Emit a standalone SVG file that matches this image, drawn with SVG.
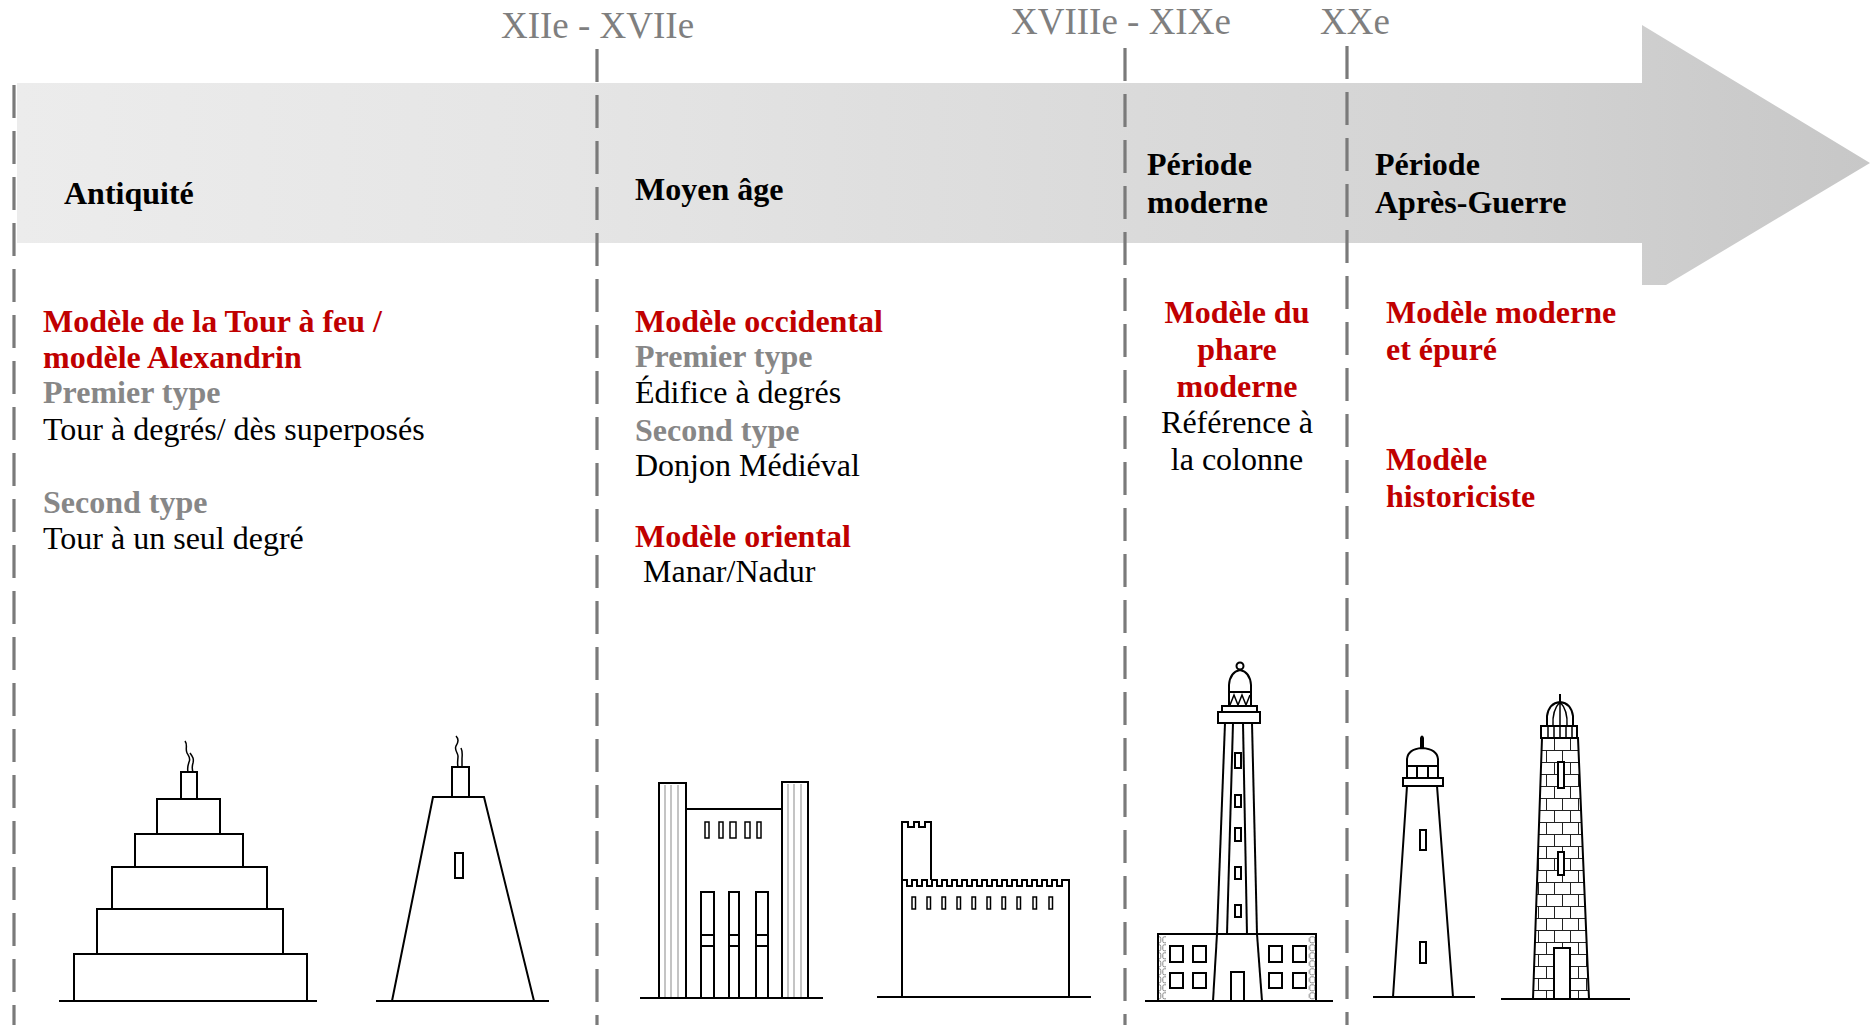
<svg xmlns="http://www.w3.org/2000/svg" width="1870" height="1025" viewBox="0 0 1870 1025">
  <defs>
    <linearGradient id="bandFill" gradientUnits="userSpaceOnUse" x1="17" y1="0" x2="1870" y2="0">
      <stop offset="0" stop-color="#ececec"/>
      <stop offset="0.3" stop-color="#e5e5e5"/>
      <stop offset="0.55" stop-color="#dcdcdc"/>
      <stop offset="0.8" stop-color="#d3d3d3"/>
      <stop offset="1" stop-color="#c7c7c7"/>
    </linearGradient>
    <pattern id="bricks" patternUnits="userSpaceOnUse" x="1530" y="750" width="16" height="24">
      <path d="M0,0.5 H16 M0,12.5 H16 M0.5,0 V12 M8.5,12 V24" fill="none" stroke="#222" stroke-width="1"/>
    </pattern>
    <pattern id="stones" patternUnits="userSpaceOnUse" x="0" y="936" width="7" height="8">
      <rect x="0.8" y="0.8" width="5" height="6" rx="1.5" fill="none" stroke="#888" stroke-width="1"/>
    </pattern>
    <clipPath id="brickTower">
      <polygon points="1533,999 1542,738 1578,738 1589,999"/>
    </clipPath>
    <style>
      .ln { fill: none; stroke: #000; stroke-width: 2; }
      .wf { fill: #fff; stroke: #000; stroke-width: 2; }
      .tn { fill: none; stroke: #000; stroke-width: 1.5; }
      .gl { fill: none; stroke: #b0b0b0; stroke-width: 1.5; }
      .div { stroke: #7a7a7a; stroke-width: 3.2; stroke-dasharray: 33 13; fill: none; }
      .yr { font-family: "Liberation Serif", "Times New Roman", serif; font-size: 37px; fill: #7f7f7f; }
      .hd { font-family: "Liberation Serif", "Times New Roman", serif; font-size: 32px; font-weight: bold; fill: #000; }
      .tx { font-family: "Liberation Serif", "Times New Roman", serif; font-size: 32px; fill: #000; }
      .red { font-weight: bold; fill: #c00000; }
      .gry { font-weight: bold; fill: #878787; }
      .mid { text-anchor: middle; }
    </style>
  </defs>

  <rect width="1870" height="1025" fill="#fff"/>

  <!-- timeline arrow -->
  <g id="timeline">
    <polygon points="17,83 1642,83 1642,25 1870,163 1666,285 1642,285 1642,243 17,243" fill="url(#bandFill)"/>
  </g>

  <!-- period dividers -->
  <g id="connectors">
    <line class="div" x1="14" y1="85" x2="14" y2="1025"/>
    <line class="div" x1="597" y1="49" x2="597" y2="1025"/>
    <line class="div" x1="1125" y1="48" x2="1125" y2="1025"/>
    <line class="div" x1="1347" y1="46" x2="1347" y2="1025"/>
  </g>

  <!-- century marks -->
  <g id="centuries">
    <text class="yr" x="501" y="38">XIIe - XVIIe</text>
    <text class="yr" x="1011" y="34">XVIIIe - XIXe</text>
    <text class="yr" x="1320" y="34">XXe</text>
  </g>

  <!-- Antiquité -->
  <g id="era-antiquite">
    <text class="hd" x="64" y="204">Antiquité</text>
    <text class="tx red" x="43" y="332">Modèle de la Tour à feu /</text>
    <text class="tx red" x="43" y="368">modèle Alexandrin</text>
    <text class="tx gry" x="43" y="403">Premier type</text>
    <text class="tx" x="43" y="440">Tour à degrés/ dès superposés</text>
    <text class="tx gry" x="43" y="513">Second type</text>
    <text class="tx" x="43" y="549">Tour à un seul degré</text>

    <!-- stepped tower -->
    <g id="stepped-tower">
      <line class="ln" x1="59" y1="1001" x2="317" y2="1001"/>
      <rect class="ln" x="74" y="954" width="233" height="47"/>
      <rect class="ln" x="97" y="909" width="186" height="45"/>
      <rect class="ln" x="112" y="867" width="155" height="42"/>
      <rect class="ln" x="135" y="834" width="108" height="33"/>
      <rect class="ln" x="157" y="799" width="63" height="35"/>
      <rect class="ln" x="181" y="772" width="16" height="27"/>
      <path class="tn" d="M185,741 c3,4 0,8 2,12 c2,4 4,5 2,9 c-1,3 -2,6 -1,10"/>
      <path class="tn" d="M190,753 c3,4 4,6 3,10 c-1,3 -1,6 0,9"/>
    </g>

    <!-- single-stage tower -->
    <g id="tapered-tower">
      <line class="ln" x1="376" y1="1001" x2="549" y2="1001"/>
      <polygon class="ln" points="392,1001 433,797 484,797 534,1001"/>
      <rect class="ln" x="452" y="767" width="17" height="30"/>
      <rect class="ln" x="455" y="853" width="8" height="25"/>
      <path class="tn" d="M456,736 c3,3 2,7 0,10 c-2,4 2,7 2,10 c0,4 -1,7 0,11"/>
      <path class="tn" d="M461,748 c2,4 1,8 1,11 c0,3 0,5 0,8"/>
    </g>
  </g>

  <!-- Moyen âge -->
  <g id="era-moyen-age">
    <text class="hd" x="635" y="200">Moyen âge</text>
    <text class="tx red" x="635" y="332">Modèle occidental</text>
    <text class="tx gry" x="635" y="367">Premier type</text>
    <text class="tx" x="635" y="403">Édifice à degrés</text>
    <text class="tx gry" x="635" y="441">Second type</text>
    <text class="tx" x="635" y="476">Donjon Médiéval</text>
    <text class="tx red" x="635" y="547">Modèle oriental</text>
    <text class="tx" x="643" y="582">Manar/Nadur</text>

    <!-- gate building -->
    <g id="gate-building">
      <line class="gl" x1="665" y1="785" x2="665" y2="997"/>
      <line class="gl" x1="671" y1="785" x2="671" y2="997"/>
      <line class="gl" x1="678" y1="785" x2="678" y2="997"/>
      <line class="gl" x1="788" y1="784" x2="788" y2="997"/>
      <line class="gl" x1="794" y1="784" x2="794" y2="997"/>
      <line class="gl" x1="801" y1="784" x2="801" y2="997"/>
      <rect class="ln" x="659" y="783" width="27" height="215"/>
      <rect class="ln" x="782" y="782" width="26" height="216"/>
      <line class="ln" x1="686" y1="809" x2="782" y2="809"/>
      <line class="ln" x1="640" y1="998" x2="823" y2="998"/>
      <rect class="tn" x="705" y="822" width="4" height="16"/>
      <rect class="tn" x="719" y="822" width="4" height="16"/>
      <rect class="tn" x="730" y="822" width="6" height="16"/>
      <rect class="tn" x="745" y="822" width="5" height="16"/>
      <rect class="tn" x="757" y="822" width="4" height="16"/>
      <rect class="ln" x="701" y="892" width="13" height="106"/>
      <rect class="ln" x="729" y="892" width="10" height="106"/>
      <rect class="ln" x="756" y="892" width="12" height="106"/>
      <path class="ln" d="M701,935 h13 M701,946 h13 M729,935 h10 M729,946 h10 M756,935 h12 M756,946 h12"/>
    </g>

    <!-- keep with battlements -->
    <g id="keep">
      <line class="ln" x1="877" y1="997" x2="1091" y2="997"/>
      <path class="ln" d="M902,997 V880
        h5 v6 h5 v-6 h5 v6 h5 v-6 h5 v6 h5 v-6 h5 v6 h5 v-6
        h5 v6 h5 v-6 h5 v6 h5 v-6 h5 v6 h5 v-6 h5 v6 h5 v-6
        h5 v6 h5 v-6 h5 v6 h5 v-6 h5 v6 h5 v-6 h5 v6 h5 v-6
        h5 v6 h5 v-6 h5 v6 h5 v-6 h5 v6 h5 v-6 h5 v6 h5 v-6
        h7 V997"/>
      <path class="ln" d="M902,880 V822 h6 v5 h6 v-5 h5 v5 h6 v-5 h6 V880"/>
      <g class="tn">
        <rect x="912" y="897" width="3.5" height="12"/>
        <rect x="927" y="897" width="3.5" height="12"/>
        <rect x="942" y="897" width="3.5" height="12"/>
        <rect x="957" y="897" width="3.5" height="12"/>
        <rect x="972" y="897" width="3.5" height="12"/>
        <rect x="987" y="897" width="3.5" height="12"/>
        <rect x="1002" y="897" width="3.5" height="12"/>
        <rect x="1017" y="897" width="3.5" height="12"/>
        <rect x="1033" y="897" width="3.5" height="12"/>
        <rect x="1049" y="897" width="3.5" height="12"/>
      </g>
    </g>
  </g>

  <!-- Période moderne -->
  <g id="era-moderne">
    <text class="hd" x="1147" y="175">Période</text>
    <text class="hd" x="1147" y="213">moderne</text>
    <text class="tx red mid" x="1237" y="323">Modèle du</text>
    <text class="tx red mid" x="1237" y="360">phare</text>
    <text class="tx red mid" x="1237" y="397">moderne</text>
    <text class="tx mid" x="1237" y="433">Référence à</text>
    <text class="tx mid" x="1237" y="470">la colonne</text>

    <!-- column lighthouse with keeper's house -->
    <g id="column-lighthouse">
      <line class="ln" x1="1145" y1="1001" x2="1333" y2="1001"/>
      <rect x="1159" y="936" width="7" height="64" fill="url(#stones)"/>
      <rect x="1308" y="936" width="7" height="64" fill="url(#stones)"/>
      <rect class="ln" x="1158" y="934" width="158" height="67"/>
      <g class="ln">
        <rect x="1170" y="946" width="13" height="16"/>
        <rect x="1193" y="946" width="13" height="16"/>
        <rect x="1170" y="973" width="13" height="15"/>
        <rect x="1193" y="973" width="13" height="15"/>
        <rect x="1269" y="946" width="13" height="16"/>
        <rect x="1293" y="946" width="13" height="16"/>
        <rect x="1269" y="973" width="13" height="15"/>
        <rect x="1293" y="973" width="13" height="15"/>
      </g>
      <line class="ln" x1="1217" y1="934" x2="1213" y2="1001"/>
      <line class="ln" x1="1257" y1="934" x2="1262" y2="1001"/>
      <rect class="ln" x="1231" y="972" width="13" height="29"/>
      <line class="ln" x1="1217" y1="934" x2="1225" y2="723"/>
      <line class="ln" x1="1227" y1="934" x2="1233" y2="723"/>
      <line class="ln" x1="1247" y1="934" x2="1243" y2="723"/>
      <line class="ln" x1="1257" y1="934" x2="1252" y2="723"/>
      <g class="ln">
        <rect x="1235" y="753" width="6" height="15"/>
        <rect x="1235" y="795" width="6" height="12"/>
        <rect x="1235" y="828" width="6" height="13"/>
        <rect x="1235" y="867" width="6" height="12"/>
        <rect x="1235" y="905" width="6" height="12"/>
      </g>
      <rect class="ln" x="1218" y="712" width="42" height="11"/>
      <rect class="ln" x="1222" y="706" width="35" height="6"/>
      <rect class="ln" x="1229" y="692" width="22" height="14"/>
      <polyline class="tn" points="1230,705 1234,695 1238,705 1242,695 1246,705 1250,695"/>
      <path class="ln" d="M1229,692 V685 Q1230,672 1240,670 Q1250,672 1251,685 V692"/>
      <circle class="ln" cx="1240" cy="666" r="3.5"/>
    </g>
  </g>

  <!-- Période Après-Guerre -->
  <g id="era-apres-guerre">
    <text class="hd" x="1375" y="175">Période</text>
    <text class="hd" x="1375" y="213">Après-Guerre</text>
    <text class="tx red" x="1386" y="323">Modèle moderne</text>
    <text class="tx red" x="1386" y="360">et épuré</text>
    <text class="tx red" x="1386" y="470">Modèle</text>
    <text class="tx red" x="1386" y="507">historiciste</text>

    <!-- plain lighthouse -->
    <g id="plain-lighthouse">
      <line class="ln" x1="1373" y1="997" x2="1475" y2="997"/>
      <polygon class="ln" points="1393,997 1407,786 1437,786 1453,997"/>
      <rect class="ln" x="1403" y="778" width="40" height="8"/>
      <rect class="ln" x="1407" y="766" width="31" height="12"/>
      <path class="ln" d="M1417,766 v12 M1428,766 v12"/>
      <path class="ln" d="M1407,766 V759 Q1408,749 1422,748 Q1437,749 1438,759 V766"/>
      <path class="ln" d="M1421,748 V738 Q1422,735 1423,738 V748"/>
      <rect class="ln" x="1420" y="830" width="6" height="20"/>
      <rect class="ln" x="1420" y="942" width="6" height="21"/>
    </g>

    <!-- masonry lighthouse -->
    <g id="masonry-lighthouse">
      <line class="ln" x1="1501" y1="999" x2="1630" y2="999"/>
      <rect x="1530" y="738" width="62" height="262" fill="url(#bricks)" clip-path="url(#brickTower)"/>
      <polygon class="ln" points="1533,999 1542,738 1578,738 1589,999"/>
      <rect class="wf" x="1558" y="762" width="6" height="26"/>
      <rect class="wf" x="1558" y="852" width="6" height="23"/>
      <rect class="wf" x="1554" y="948" width="16" height="51"/>
      <rect class="ln" x="1541" y="726" width="36" height="12"/>
      <path class="tn" d="M1548,726 v12 M1554,726 v12 M1560,726 v12 M1566,726 v12 M1572,726 v12"/>
      <line class="ln" x1="1540" y1="726" x2="1578" y2="726"/>
      <path class="ln" d="M1547,726 V716 Q1549,703 1560,702 Q1571,703 1573,716 V726"/>
      <path class="tn" d="M1553,726 Q1552,710 1560,702 M1567,726 Q1568,710 1560,702 M1560,726 V702"/>
      <line class="ln" x1="1560" y1="702" x2="1560" y2="694"/>
    </g>
  </g>
</svg>
